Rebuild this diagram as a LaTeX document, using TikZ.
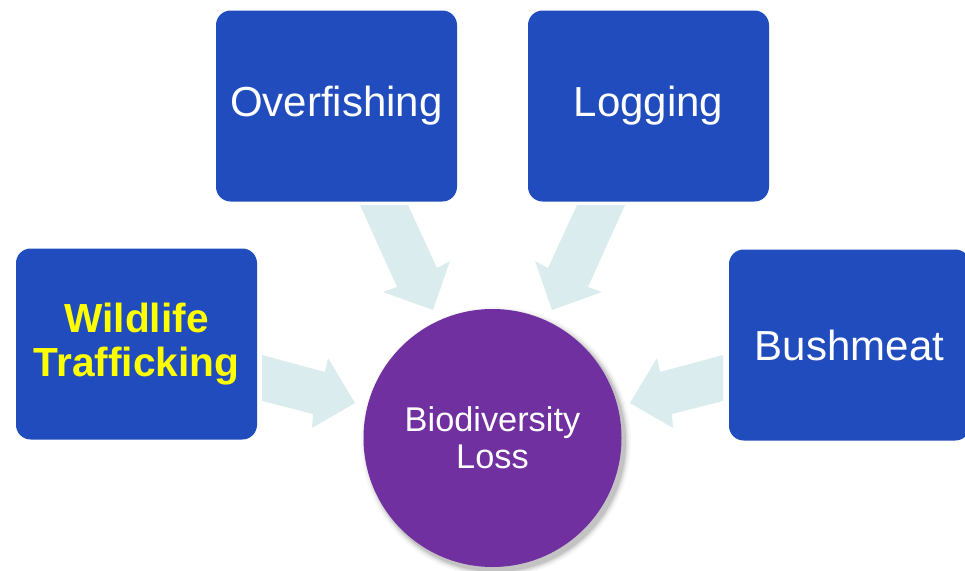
\documentclass[tikz,border=0pt]{standalone}
\usepackage{fontspec}
\setmainfont{Liberation Sans}
\definecolor{boxblue}{RGB}{32,76,190}
\definecolor{circpurple}{RGB}{112,48,160}
\definecolor{arrowfill}{RGB}{218,236,238}
\definecolor{wyellow}{RGB}{255,255,0}
\begin{document}
\begin{tikzpicture}[x=0.75pt,y=-0.75pt,
  causebox/.style={draw=none,fill=boxblue,rounded corners=11pt,
    minimum width=180.75pt,minimum height=143.25pt,inner sep=0pt,
    align=center,text=white,font=\fontsize{31.5}{34}\selectfont},
  lossnode/.style={circle,draw=none,fill=circpurple,minimum size=193.5pt,
    inner sep=0pt,align=center,text=white,font=\fontsize{25.75}{27.5}\selectfont},
  blockarrow/.style={fill=arrowfill,draw=none}]
\useasboundingbox (0,0) rectangle (965,571);
\begin{scope}
\clip (0,0) rectangle (965,571);
% block arrows
\fill[blockarrow] (360,205) -- (408,205) -- (437,268) -- (450,261) -- (433,310) -- (383,292) -- (397,287) -- cycle;
\fill[blockarrow] (625,205) -- (577,205) -- (548,268) -- (535,261) -- (552,310) -- (602,292) -- (588,287) -- cycle;
\fill[blockarrow] (262,355) -- (325,372) -- (328,358) -- (355,403) -- (312,428) -- (313,414) -- (262,401) -- cycle;
\fill[blockarrow] (723,355) -- (660,372) -- (657,358) -- (630,403) -- (673,428) -- (672,414) -- (723,401) -- cycle;
% boxes
\node[causebox] (over) at (336.5,106) {Overfishing};
\node[causebox] (log) at (648.5,106) {Logging};
\node[causebox,text=wyellow,font=\bfseries\fontsize{30.5}{32.5}\selectfont] (wild) at (136.5,344) {Wildlife\\Trafficking};
\node[causebox] (bush) at (849.5,345) {Bushmeat};
% circle shadow
\foreach \r/\o in {135/0.03,133/0.05,131.5/0.07,130/0.10} {
  \fill[black,opacity=\o] (496,442) circle[radius=\r];
}
\node[lossnode] (loss) at (492.5,438) {Biodiversity\\Loss};
\end{scope}
\end{tikzpicture}
\end{document}
